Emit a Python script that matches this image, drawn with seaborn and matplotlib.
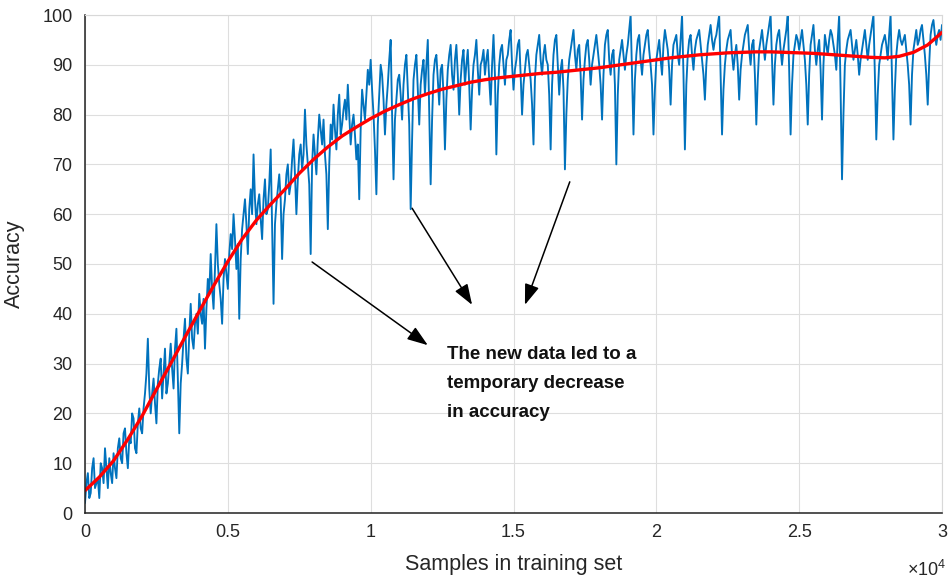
import numpy as np
import pandas as pd
import seaborn as sns
import matplotlib.pyplot as plt
from matplotlib.ticker import FuncFormatter

# samples step between blue points (read every 50 samples)
step = 50

# blue: raw accuracy, one value every 50 samples (0 .. 30000)
acc_raw = [
    2, 6, 8, 3, 4, 9, 11, 5, 6, 7, 3, 10, 9, 6, 13, 9, 5, 11, 8, 6,
    12, 9, 7, 13, 15, 11, 10, 16, 17, 12, 9, 15, 14, 20, 19, 13, 12, 18, 21, 17,
    16, 21, 24, 28, 35, 25, 20, 24, 27, 22, 18, 26, 29, 31, 23, 28, 33, 24, 26, 30,
    34, 29, 25, 33, 37, 27, 16, 26, 30, 35, 39, 31, 28, 36, 42, 35, 33, 38, 40, 36,
    44, 40, 38, 43, 33, 41, 47, 44, 52, 45, 41, 49, 58, 50, 46, 43, 38, 47, 51, 48,
    45, 52, 56, 53, 60, 55, 49, 54, 39, 51, 57, 60, 63, 58, 52, 61, 65, 60, 72, 63,
    58, 62, 64, 59, 55, 63, 67, 60, 61, 66, 73, 57, 42, 58, 62, 65, 68, 63, 51, 60,
    63, 68, 70, 64, 66, 71, 75, 68, 60, 67, 72, 74, 69, 72, 81, 74, 70, 66, 52, 70,
    76, 72, 68, 75, 80, 77, 74, 79, 72, 68, 57, 70, 78, 75, 82, 77, 73, 80, 84, 76,
    78, 81, 83, 79, 86, 80, 74, 78, 80, 76, 71, 74, 63, 77, 85, 82, 79, 84, 89, 86,
    91, 85, 80, 73, 64, 78, 84, 90, 88, 83, 76, 82, 86, 91, 95, 80, 67, 79, 83, 87,
    88, 84, 79, 86, 90, 92, 85, 78, 61, 75, 87, 90, 92, 85, 78, 86, 89, 91, 84, 90,
    95, 80, 66, 79, 88, 91, 92, 87, 82, 89, 90, 84, 73, 83, 89, 92, 94, 88, 85, 91,
    94, 88, 80, 87, 91, 93, 86, 90, 93, 86, 77, 85, 90, 92, 95, 89, 84, 90, 91, 93,
    88, 91, 93, 87, 82, 90, 96, 88, 72, 84, 90, 93, 94, 90, 86, 91, 92, 95, 97, 90,
    85, 89, 91, 94, 95, 88, 80, 86, 89, 92, 93, 90, 87, 82, 74, 87, 92, 94, 96, 91,
    88, 92, 94, 91, 90, 84, 73, 86, 92, 95, 96, 90, 84, 89, 91, 85, 69, 80, 87, 91,
    93, 95, 97, 92, 89, 93, 94, 88, 79, 87, 91, 94, 95, 91, 86, 90, 92, 94, 96, 93,
    90, 86, 79, 88, 94, 96, 97, 91, 88, 92, 93, 86, 70, 84, 91, 93, 95, 92, 89, 92,
    94, 97, 100, 88, 76, 87, 92, 95, 96, 91, 88, 92, 94, 96, 97, 93, 90, 86, 76, 85,
    91, 93, 95, 91, 88, 94, 97, 95, 93, 89, 82, 90, 94, 95, 96, 92, 90, 95, 100, 88,
    73, 86, 92, 95, 96, 92, 89, 93, 95, 96, 97, 94, 91, 88, 83, 90, 94, 96, 98, 95,
    93, 95, 96, 98, 100, 88, 76, 85, 90, 93, 95, 96, 97, 92, 89, 92, 94, 90, 83, 89,
    92, 94, 96, 97, 98, 93, 90, 94, 95, 88, 78, 87, 93, 95, 97, 94, 91, 94, 96, 98,
    100, 91, 82, 90, 94, 96, 97, 93, 90, 93, 95, 97, 100, 89, 76, 86, 92, 94, 96, 95,
    93, 95, 97, 94, 91, 86, 78, 88, 94, 96, 98, 93, 90, 93, 95, 89, 79, 90, 96, 94,
    92, 95, 97, 96, 94, 92, 89, 95, 100, 85, 67, 80, 90, 93, 95, 96, 97, 94, 91, 93,
    95, 92, 88, 91, 93, 95, 97, 94, 91, 94, 96, 98, 100, 88, 75, 84, 90, 92, 94, 95,
    96, 94, 91, 96, 100, 87, 75, 85, 92, 95, 97, 95, 94, 95, 96, 93, 90, 86, 78, 88,
    93, 95, 97, 94, 95, 97, 98, 95, 92, 88, 82, 90, 96, 98, 99, 96, 94, 96, 97, 95,
    98,
]

# red: fitted trend, one value every 500 samples
acc_fit = [
    4.5, 7.2, 10.5, 14.8, 19.5, 24.8, 30.0, 35.3, 40.5, 45.6,
    50.5, 55.0, 58.8, 62.0, 65.0, 68.2, 71.0, 73.5, 75.7, 77.5,
    79.2, 80.7, 82.0, 83.2, 84.2, 85.1, 85.8, 86.5, 87.0, 87.4,
    87.7, 88.0, 88.3, 88.5, 88.8, 89.1, 89.4, 89.8, 90.2, 90.6,
    91.0, 91.4, 91.7, 92.0, 92.2, 92.4, 92.5, 92.6, 92.6, 92.5,
    92.4, 92.3, 92.1, 91.9, 91.7, 91.5, 91.4, 91.7, 92.5, 94.0,
    96.5,
]

x_ticks = [0, 5000, 10000, 15000, 20000, 25000, 30000]
y_ticks = [0, 10, 20, 30, 40, 50, 60, 70, 80, 90, 100]
note = "The new data led to a\ntemporary decrease\nin accuracy"

raw_df = pd.DataFrame({"samples": np.arange(len(acc_raw)) * step, "acc": acc_raw})
fit_df = pd.DataFrame({"samples": np.arange(len(acc_fit)) * 500, "acc": acc_fit})

sns.set_style("white")
plt.rcParams["font.family"] = ["Liberation Sans", "DejaVu Sans"]
plt.rcParams["mathtext.fontset"] = "custom"
plt.rcParams["mathtext.rm"] = "Liberation Sans"

fig = plt.figure(figsize=(9.5, 5.8), dpi=100)
ax = fig.add_axes([85 / 950, 1 - 513 / 580, (942 - 85) / 950, (513 - 15) / 580])

sns.lineplot(data=raw_df, x="samples", y="acc", color="#0072BD", linewidth=1.35, ax=ax)
sns.lineplot(data=fit_df, x="samples", y="acc", color="#FF0000", linewidth=2.4, ax=ax)

ax.set_xlim(0, 30000)
ax.set_ylim(0, 100)
ax.set_xticks(x_ticks)
ax.set_yticks(y_ticks)
ax.xaxis.set_major_formatter(FuncFormatter(lambda v, p: "%g" % (v / 1e4)))
ax.grid(True, color="#dedede", linewidth=0.8)
ax.tick_params(direction="in", length=5, width=1, colors="#262626", labelsize=13)
ax.tick_params(axis="x", pad=8)
ax.tick_params(axis="y", pad=9)
for s in ["left", "bottom"]:
    ax.spines[s].set_color("#222222")
    ax.spines[s].set_linewidth(1.1)
for s in ["top", "right"]:
    ax.spines[s].set_color("#d8d8d8")
    ax.spines[s].set_linewidth(0.8)

ax.set_xlabel("Samples in training set", fontsize=15.5, color="#262626")
ax.set_ylabel("Accuracy", fontsize=15.5, color="#262626")
ax.xaxis.set_label_coords(0.5, -0.082)
ax.yaxis.set_label_coords(-0.07, 0.5)

fig.text(946 / 950, 1 - 576 / 580, r"$\mathregular{\times10^{4}}$", ha="right",
         va="baseline", fontsize=13, color="#262626")

# arrows pointing from the dips to the note
arrow = dict(arrowstyle="-|>,head_length=0.9,head_width=0.32", color="black",
             lw=1.1, mutation_scale=14, shrinkA=0, shrinkB=0)
ax.annotate("", xy=(12000, 33.7), xytext=(7950, 50.4), arrowprops=arrow)
ax.annotate("", xy=(13550, 41.8), xytext=(11450, 61.2), arrowprops=arrow)
ax.annotate("", xy=(15400, 41.8), xytext=(16970, 66.5), arrowprops=arrow)

ax.text(12670, 33.6, note, ha="left", va="top", fontsize=13.5, fontweight="bold",
        color="#111111", linespacing=1.95)

plt.savefig("out.png", dpi=100)
